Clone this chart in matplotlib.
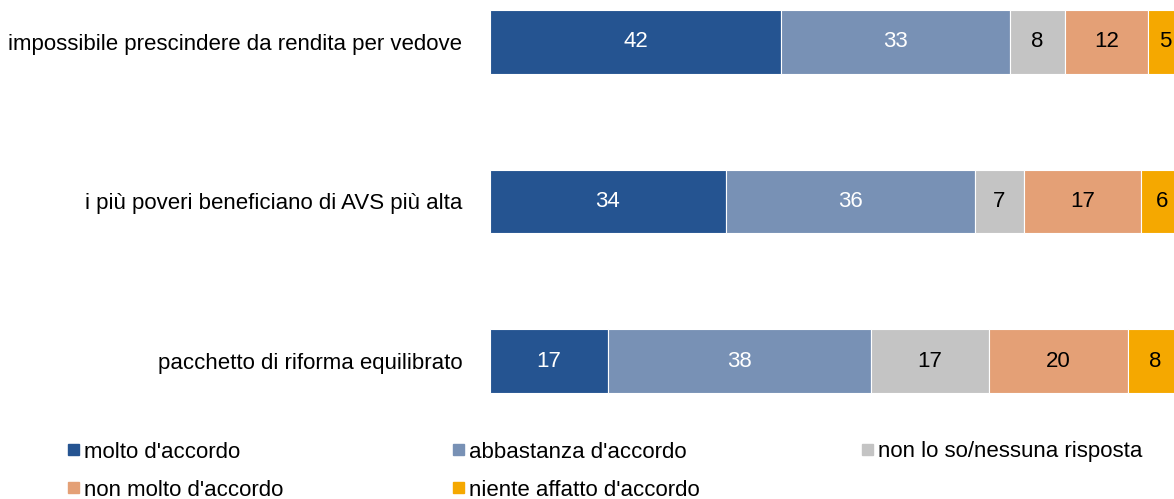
import matplotlib.pyplot as plt
from matplotlib.patches import Rectangle

plt.rcParams['font.family'] = ['Liberation Sans', 'DejaVu Sans']

# === DATA ===
categories = ['impossibile prescindere da rendita per vedove',
              'i più poveri beneficiano di AVS più alta',
              'pacchetto di riforma equilibrato']
series = ["molto d'accordo", "abbastanza d'accordo", "non lo so/nessuna risposta",
          "non molto d'accordo", "niente affatto d'accordo"]
molto = [42, 34, 17]
abbastanza = [33, 36, 38]
non_so = [8, 7, 17]
non_molto = [12, 17, 20]
niente = [5, 6, 8]

colors = ['#255491', '#7891B5', '#C4C4C4', '#E4A076', '#F5A800']
text_colors = ['white', 'white', 'black', 'black', 'black']

# === PLOT ===
fig = plt.figure(figsize=(11.74, 4.99), dpi=100)
# axes runs slightly past the right edge, like the original
ax = fig.add_axes([490 / 1174, 1 - 401 / 499, 693 / 1174, 399 / 499])

values = [molto, abbastanza, non_so, non_molto, niente]
ypos = [2, 1, 0]
left = [0, 0, 0]
for vals, col, tcol, name in zip(values, colors, text_colors, series):
    ax.barh(ypos, vals, left=left, height=0.4, color=col,
            edgecolor='white', linewidth=0.8, label=name)
    for y, l, v in zip(ypos, left, vals):
        ax.text(l + v / 2, y, str(v), ha='center', va='center',
                color=tcol, fontsize=16)
    left = [a + b for a, b in zip(left, vals)]

ax.set_xlim(0, 100)
ax.set_ylim(-0.25, 2.25)
ax.set_yticks(ypos)
ax.set_yticklabels(categories, fontsize=16)
ax.tick_params(axis='y', length=0, pad=20)
ax.set_xticks([])
for s in ax.spines.values():
    s.set_visible(False)

# --- legend (row-wise, like the original) ---
leg_x = [68, 453, 862]
leg_y = [452, 490]
for i, (name, col) in enumerate(zip(series, colors)):
    r, c = divmod(i, 3)
    x = leg_x[c] / 1174
    y = 1 - leg_y[r] / 499
    fig.add_artist(Rectangle((x, y - 3 / 499), 11 / 1174, 11 / 499,
                             transform=fig.transFigure, color=col))
    fig.text(x + 16 / 1174, y, name, ha='left', va='center', fontsize=16)

fig.savefig('out.png', dpi=100)
